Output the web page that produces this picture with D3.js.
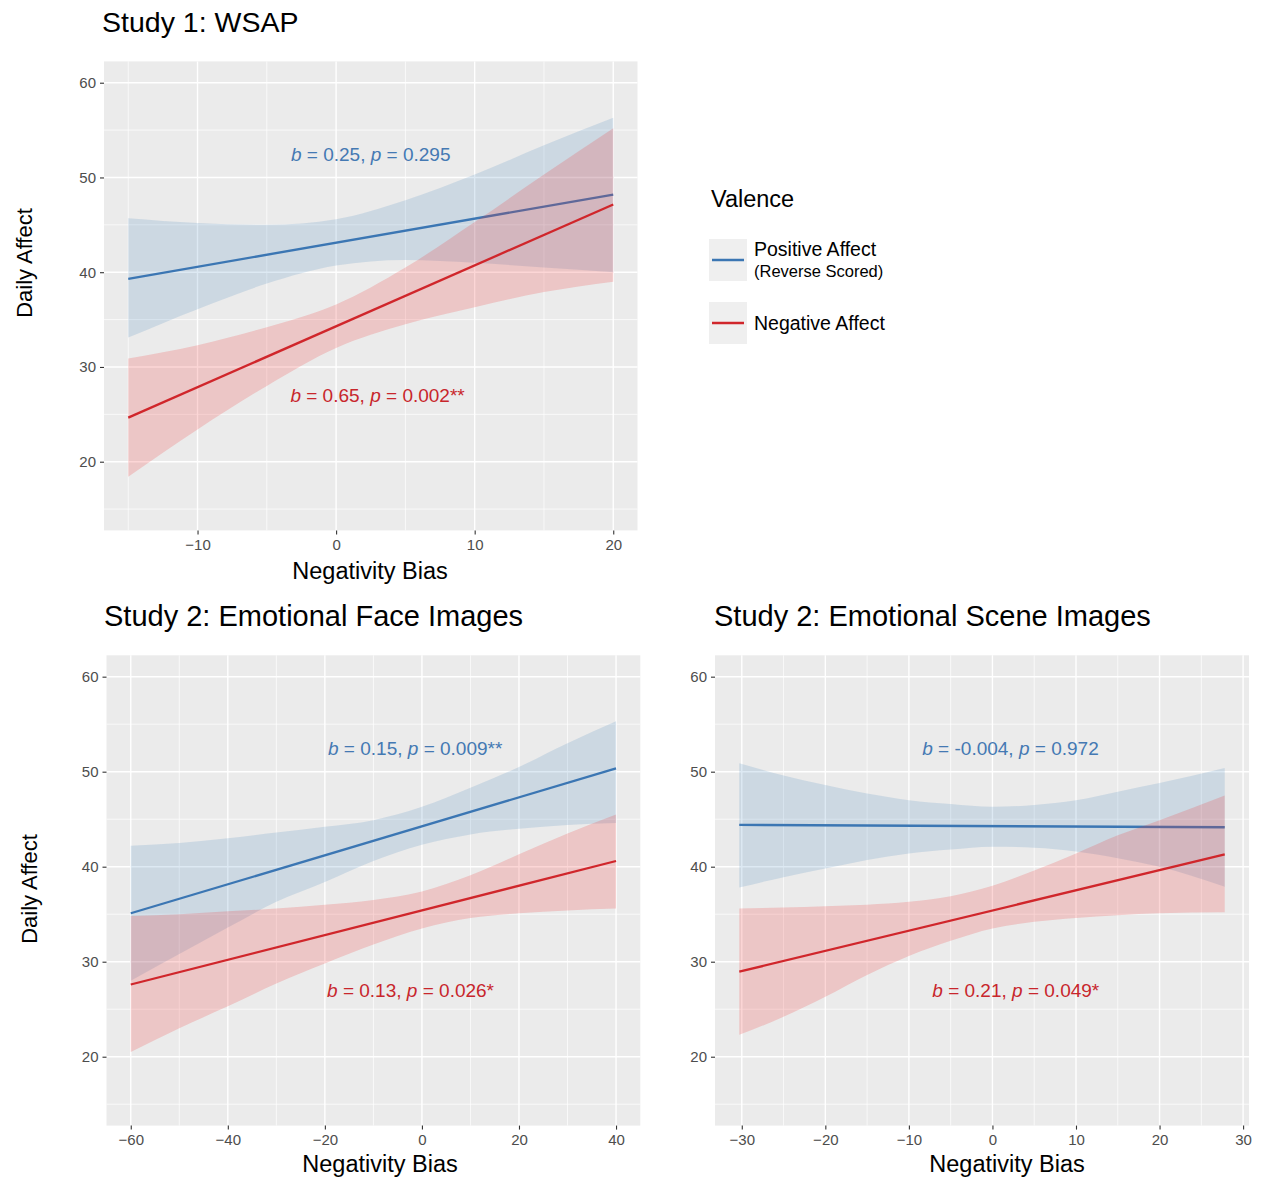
<!DOCTYPE html>
<html><head><meta charset="utf-8">
<script src="https://cdn.jsdelivr.net/npm/d3@7"></script>
<style>
body{margin:0;background:#fff;}
svg{display:block;font-family:"Liberation Sans",Arial,Helvetica,sans-serif;}
</style>
</head><body>
<svg id="chart" width="1264" height="1180"></svg>
<script>
// ---------------- data ----------------
const yTickValues = [20, 30, 40, 50, 60];
const yLimits = [15, 60];
const seriesNames = ["Positive Affect", "Negative Affect"];

// Study 1: WSAP
const study1XTicks = [-10, 0, 10, 20];
const study1LineX = [-15, 20];
const study1PosFit = [39.3, 48.2];
const study1NegFit = [24.65, 47.15];
const study1RibbonX = [-15, -10, -5, 0, 5, 10, 15, 20];
const study1PosLower = [33.1, 36.1, 38.8, 40.7, 41.3, 41.0, 40.5, 40.0];
const study1PosUpper = [45.7, 45.2, 45.0, 45.6, 47.6, 50.3, 53.4, 56.3];
const study1NegLower = [18.4, 23.4, 28.0, 32.0, 34.5, 36.3, 37.9, 39.0];
const study1NegUpper = [30.9, 32.3, 34.2, 36.6, 40.5, 45.3, 50.3, 55.2];
const study1PosLabel = "b = 0.25, p = 0.295";
const study1NegLabel = "b = 0.65, p = 0.002**";

// Study 2: Emotional Face Images
const faceXTicks = [-60, -40, -20, 0, 20, 40];
const faceLineX = [-60, 40];
const facePosFit = [35.1, 50.35];
const faceNegFit = [27.6, 40.6];
const faceRibbonX = [-60, -50, -40, -30, -20, -10, 0, 10, 20, 30, 40];
const facePosLower = [28.0, 30.8, 33.6, 36.3, 38.4, 40.6, 42.3, 43.4, 44.0, 44.4, 44.6];
const facePosUpper = [42.2, 42.5, 43.0, 43.6, 44.2, 44.9, 46.3, 48.3, 50.5, 53.0, 55.3];
const faceNegLower = [20.5, 23.0, 25.3, 27.7, 29.8, 31.8, 33.5, 34.6, 35.1, 35.4, 35.6];
const faceNegUpper = [34.8, 35.0, 35.3, 35.6, 36.0, 36.5, 37.4, 39.1, 41.3, 43.5, 45.5];
const facePosLabel = "b = 0.15, p = 0.009**";
const faceNegLabel = "b = 0.13, p = 0.026*";

// Study 2: Emotional Scene Images
const sceneXTicks = [-30, -20, -10, 0, 10, 20, 30];
const sceneLineX = [-30.3, 27.8];
const scenePosFit = [44.4, 44.15];
const sceneNegFit = [28.95, 41.3];
const sceneRibbonX = [-30.3, -25, -20, -15, -10, -5, 0, 5, 10, 15, 20, 27.8];
const scenePosLower = [37.8, 38.9, 39.8, 40.7, 41.4, 41.8, 42.1, 42.0, 41.6, 40.9, 40.0, 37.9];
const scenePosUpper = [50.9, 49.6, 48.6, 47.7, 47.0, 46.6, 46.3, 46.5, 47.0, 47.9, 48.8, 50.4];
const sceneNegLower = [22.3, 24.2, 26.3, 28.6, 30.6, 32.2, 33.5, 34.2, 34.6, 34.9, 35.1, 35.2];
const sceneNegUpper = [35.6, 35.7, 35.85, 36.0, 36.3, 36.9, 38.0, 39.6, 41.4, 43.3, 44.9, 47.5];
const scenePosLabel = "b = -0.004, p = 0.972";
const sceneNegLabel = "b = 0.21, p = 0.049*";

// ---------------- style ----------------
const C = {
  panel: "#EBEBEB",
  posLine: "#3B76B3", negLine: "#D0262B",
  posFill: "rgba(55,126,184,0.17)", negFill: "rgba(240,50,50,0.2)",
  posText: "#4479B3", negText: "#C8262C",
  tickText: "#4D4D4D", tick: "#333333"
};

const svg = d3.select("#chart");

function expand(ext) {
  const r = ext[1] - ext[0];
  return [ext[0] - 0.05 * r, ext[1] + 0.05 * r];
}

function addLabel(g, str) {
  const parts = str.split(/(\b[bp]\b)/).filter(s => s.length);
  parts.forEach(s => {
    g.append("tspan")
      .attr("font-style", (s === "b" || s === "p") ? "italic" : "normal")
      .text(s);
  });
}

function drawPanel(p) {
  const x = d3.scaleLinear().domain(expand(d3.extent(p.ribbonX))).range([p.left, p.right]);
  const y = d3.scaleLinear().domain(expand(yLimits)).range([p.bottom, p.top]);
  const g = svg.append("g");

  g.append("rect").attr("x", p.left).attr("y", p.top)
    .attr("width", p.right - p.left).attr("height", p.bottom - p.top)
    .attr("fill", C.panel);

  const xStep = p.xTicks[1] - p.xTicks[0];
  const xDom = x.domain();
  const xMinor = d3.range(p.xTicks[0] - xStep / 2, p.xTicks[p.xTicks.length - 1] + xStep, xStep)
    .filter(v => v > xDom[0] && v < xDom[1]);
  const yStep = yTickValues[1] - yTickValues[0];
  const yDom = y.domain();
  const yMinor = d3.range(yTickValues[0] - yStep / 2, yTickValues[yTickValues.length - 1] + yStep, yStep)
    .filter(v => v > yDom[0] && v < yDom[1]);

  g.selectAll(".xmin").data(xMinor).join("line")
    .attr("x1", d => x(d)).attr("x2", d => x(d)).attr("y1", p.top).attr("y2", p.bottom)
    .attr("stroke", "#fff").attr("stroke-width", 0.7);
  g.selectAll(".ymin").data(yMinor).join("line")
    .attr("y1", d => y(d)).attr("y2", d => y(d)).attr("x1", p.left).attr("x2", p.right)
    .attr("stroke", "#fff").attr("stroke-width", 0.7);
  g.selectAll(".xmaj").data(p.xTicks).join("line")
    .attr("x1", d => x(d)).attr("x2", d => x(d)).attr("y1", p.top).attr("y2", p.bottom)
    .attr("stroke", "#fff").attr("stroke-width", 1.4);
  g.selectAll(".ymaj").data(yTickValues).join("line")
    .attr("y1", d => y(d)).attr("y2", d => y(d)).attr("x1", p.left).attr("x2", p.right)
    .attr("stroke", "#fff").attr("stroke-width", 1.4);

  const series = [
    {lower: p.posLower, upper: p.posUpper, fit: p.posFit, fill: C.posFill, stroke: C.posLine},
    {lower: p.negLower, upper: p.negUpper, fit: p.negFit, fill: C.negFill, stroke: C.negLine}
  ];
  const area = d3.area().curve(d3.curveMonotoneX).x(d => x(d.x)).y0(d => y(d.lo)).y1(d => y(d.hi));
  const line = d3.line().x(d => x(d.x)).y(d => y(d.y));
  series.forEach(s => {
    const rib = p.ribbonX.map((xv, i) => ({x: xv, lo: s.lower[i], hi: s.upper[i]}));
    g.append("path").attr("d", area(rib)).attr("fill", s.fill);
    const ln = p.lineX.map((xv, i) => ({x: xv, y: s.fit[i]}));
    g.append("path").attr("d", line(ln)).attr("fill", "none")
      .attr("stroke", s.stroke).attr("stroke-width", 2.3);
  });

  [[p.posLabel, p.posAnnX, 52.5, C.posText], [p.negLabel, p.negAnnX, 27, C.negText]].forEach(a => {
    const t = g.append("text").attr("x", x(a[1])).attr("y", y(a[2]))
      .attr("dy", "0.36em").attr("font-size", 19).attr("fill", a[3]);
    addLabel(t, a[0]);
  });

  const ya = g.append("g").attr("transform", `translate(${p.left},0)`)
    .call(d3.axisLeft(y).tickValues(yTickValues).tickSize(4).tickPadding(4).tickFormat(d3.format("d")));
  const xa = g.append("g").attr("transform", `translate(0,${p.bottom})`)
    .call(d3.axisBottom(x).tickValues(p.xTicks).tickSize(4).tickPadding(5));
  [ya, xa].forEach(a => {
    a.select(".domain").remove();
    a.selectAll(".tick line").attr("stroke", C.tick).attr("stroke-width", 1.1);
    a.selectAll(".tick text").attr("fill", C.tickText).attr("font-size", 15)
      .attr("font-family", '"Liberation Sans",Arial,sans-serif');
  });

  svg.append("text").attr("x", p.titleX).attr("y", p.titleY)
    .attr("font-size", p.titleSize).attr("fill", "#000").text(p.title);
  svg.append("text").attr("x", p.xTitleX).attr("y", p.xTitleY)
    .attr("text-anchor", "middle").attr("font-size", 23.5).attr("fill", "#000").text("Negativity Bias");
  if (p.yTitleX) {
    svg.append("text").attr("transform", `translate(${p.yTitleX},${p.yTitleY}) rotate(-90)`)
      .attr("text-anchor", "middle").attr("font-size", 22).attr("fill", "#000").text("Daily Affect");
  }
}

drawPanel({
  title: "Study 1: WSAP", titleX: 102, titleY: 32, titleSize: 28.5,
  left: 104, right: 637.5, top: 61.4, bottom: 530.4,
  xTicks: study1XTicks, lineX: study1LineX, ribbonX: study1RibbonX,
  posFit: study1PosFit, negFit: study1NegFit,
  posLower: study1PosLower, posUpper: study1PosUpper,
  negLower: study1NegLower, negUpper: study1NegUpper,
  posLabel: study1PosLabel, negLabel: study1NegLabel, posAnnX: -3.26, negAnnX: -3.3,
  xTitleX: 370, xTitleY: 579, yTitleX: 32, yTitleY: 263
});
drawPanel({
  title: "Study 2: Emotional Face Images", titleX: 104, titleY: 626, titleSize: 29,
  left: 106.5, right: 640.3, top: 655.3, bottom: 1125.6,
  xTicks: faceXTicks, lineX: faceLineX, ribbonX: faceRibbonX,
  posFit: facePosFit, negFit: faceNegFit,
  posLower: facePosLower, posUpper: facePosUpper,
  negLower: faceNegLower, negUpper: faceNegUpper,
  posLabel: facePosLabel, negLabel: faceNegLabel, posAnnX: -19.35, negAnnX: -19.55,
  xTitleX: 380, xTitleY: 1172, yTitleX: 37, yTitleY: 889
});
drawPanel({
  title: "Study 2: Emotional Scene Images", titleX: 714, titleY: 626, titleSize: 29,
  left: 715, right: 1249, top: 655.3, bottom: 1125.6,
  xTicks: sceneXTicks, lineX: sceneLineX, ribbonX: sceneRibbonX,
  posFit: scenePosFit, negFit: sceneNegFit,
  posLower: scenePosLower, posUpper: scenePosUpper,
  negLower: sceneNegLower, negUpper: sceneNegUpper,
  posLabel: scenePosLabel, negLabel: sceneNegLabel, posAnnX: -8.4, negAnnX: -7.2,
  xTitleX: 1007, xTitleY: 1172, yTitleX: null, yTitleY: null
});

// ---------------- legend ----------------
const leg = svg.append("g");
leg.append("text").attr("x", 711).attr("y", 207).attr("font-size", 23.5).attr("fill", "#000").text("Valence");
const legY = [239, 302];
const legColors = [C.posLine, C.negLine];
seriesNames.forEach((name, i) => {
  leg.append("rect").attr("x", 709).attr("y", legY[i]).attr("width", 38).attr("height", 42).attr("fill", "#EFEFEF");
  leg.append("line").attr("x1", 712).attr("x2", 744).attr("y1", legY[i] + 21).attr("y2", legY[i] + 21)
    .attr("stroke", legColors[i]).attr("stroke-width", 2.5);
  leg.append("text").attr("x", 754).attr("y", legY[i] + (i === 0 ? 17 : 28)).attr("font-size", 19.5)
    .attr("fill", "#000").text(name);
});
leg.append("text").attr("x", 754).attr("y", 277).attr("font-size", 16.5).attr("fill", "#000").text("(Reverse Scored)");
</script>
</body></html>
